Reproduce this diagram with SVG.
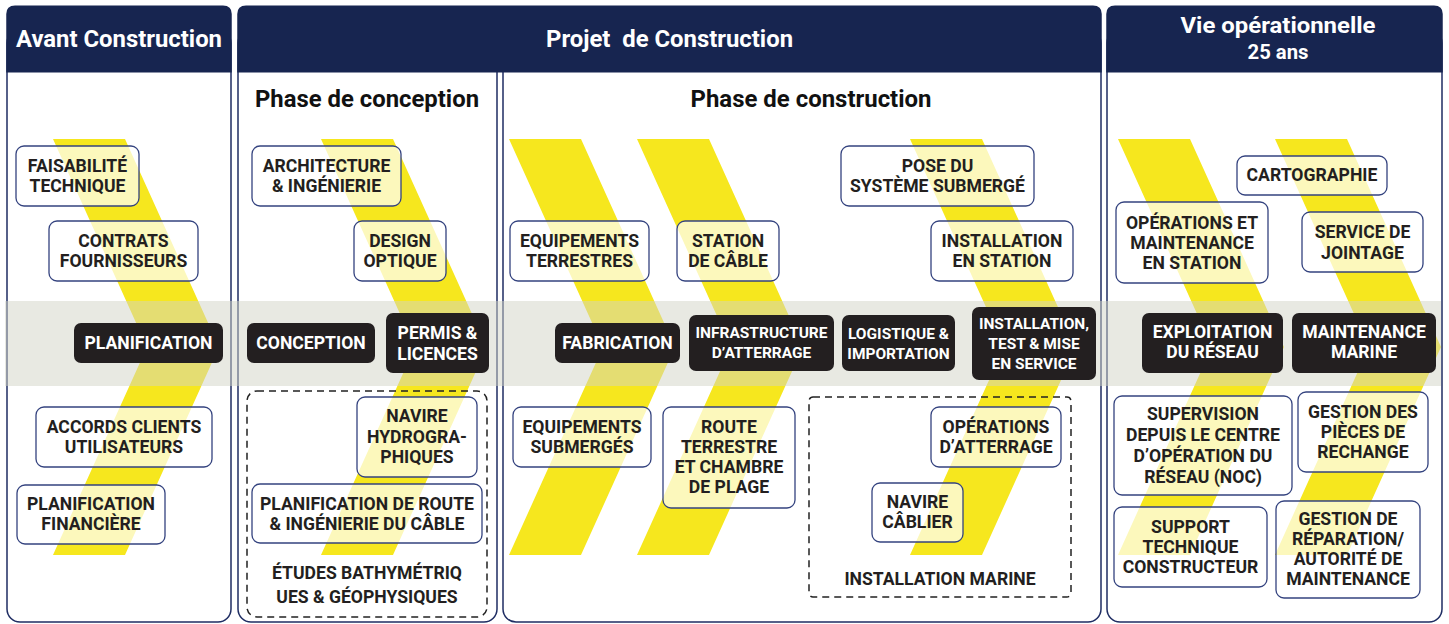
<svg xmlns="http://www.w3.org/2000/svg" width="1449" height="624" viewBox="0 0 1449 624">
<style>
.panel{fill:#ffffff;stroke:#1f2d63;stroke-width:1.5}
.head{fill:#172550}
.ht{font-family:Roboto,"Liberation Sans",sans-serif;font-weight:700;fill:#ffffff;text-anchor:middle}
.title{font-family:Roboto,"Liberation Sans",sans-serif;font-weight:700;fill:#111111;text-anchor:middle;font-size:23px}
.chev{fill:#f6e71e}
.band{fill:#d2d4c6;opacity:0.5}
.box{fill:#ffffff;fill-opacity:0.7;stroke:#34437f;stroke-width:1.3}
.dark{fill:#231f20}
.dash{fill:none;stroke:#222222;stroke-width:1.5;stroke-dasharray:7 5}
.t{font-family:Roboto,"Liberation Sans",sans-serif;font-weight:700;font-size:17.6px;fill:#231f20;text-anchor:middle}
.w{font-family:Roboto,"Liberation Sans",sans-serif;font-weight:700;font-size:17.6px;fill:#ffffff;text-anchor:middle}
.ws{font-size:15.5px}
</style>
<defs>
<polygon id="chevron" points="0,139 72,139 166,347 72,555 0,555 94,347"/>
</defs>

<g id="panels">
<rect class="panel" x="7" y="30" width="224" height="592" rx="13"/>
<rect class="panel" x="238" y="30" width="259" height="592" rx="13"/>
<rect class="panel" x="503" y="30" width="598" height="592" rx="13"/>
<rect class="panel" x="1107" y="30" width="335" height="592" rx="13"/>
<path class="head" d="M6.25,72.5 V14 Q6.25,5.5 15,5.5 H223 Q231.75,5.5 231.75,14 V72.5 Z"/>
<path class="head" d="M237.25,72.5 V14 Q237.25,5.5 246,5.5 H1093 Q1101.75,5.5 1101.75,14 V72.5 Z"/>
<path class="head" d="M1106.25,72.5 V14 Q1106.25,5.5 1115,5.5 H1434 Q1442.75,5.5 1442.75,14 V72.5 Z"/>
<text class="ht" x="119" y="47" font-size="24" textLength="206" lengthAdjust="spacingAndGlyphs">Avant Construction</text>
<text class="ht" x="669.5" y="47" font-size="24" textLength="247" lengthAdjust="spacingAndGlyphs" xml:space="preserve">Projet  de Construction</text>
<text class="ht" x="1278" y="33" font-size="22" textLength="195" lengthAdjust="spacingAndGlyphs">Vie opérationnelle</text>
<text class="ht" x="1278" y="59" font-size="20" textLength="61" lengthAdjust="spacingAndGlyphs">25 ans</text>
<text class="title" x="367" y="107" textLength="224" lengthAdjust="spacingAndGlyphs">Phase de conception</text>
<text class="title" x="811" y="107" textLength="241" lengthAdjust="spacingAndGlyphs">Phase de construction</text>
</g>

<g id="chevrons">
<use href="#chevron" class="chev" x="53"/>
<use href="#chevron" class="chev" x="321"/>
<use href="#chevron" class="chev" x="509"/>
<use href="#chevron" class="chev" x="637"/>
<use href="#chevron" class="chev" x="910"/>
<use href="#chevron" class="chev" x="1118"/>
<use href="#chevron" class="chev" x="1275"/>
</g>

<rect id="band" class="band" x="5" y="301" width="1436" height="85"/>

<g id="groups">
<g id="etudes-group">
<rect class="dash" x="247" y="391" width="240" height="226" rx="10"/>
<text class="t" x="367" y="579">ÉTUDES BATHYMÉTRIQ</text>
<text class="t" x="367" y="603">UES &amp; GÉOPHYSIQUES</text>
</g>
<g id="installation-marine-group">
<rect class="dash" x="809" y="397" width="262" height="200" rx="4"/>
<text class="t" x="940" y="585">INSTALLATION MARINE</text>
</g>
</g>

<g id="connectors"/>

<g id="n-faisabilite"><rect class="box" x="16" y="146" width="123" height="60" rx="8"/><text class="t" x="77.5" y="172">FAISABILITÉ</text><text class="t" x="77.5" y="192">TECHNIQUE</text></g>
<g id="n-contrats"><rect class="box" x="49" y="221" width="149" height="60" rx="8"/><text class="t" x="123.5" y="247">CONTRATS</text><text class="t" x="123.5" y="267">FOURNISSEURS</text></g>
<g id="n-planification"><rect class="dark" x="74" y="323" width="149" height="40" rx="7"/><text class="w" x="148.5" y="349">PLANIFICATION</text></g>
<g id="n-accords"><rect class="box" x="36" y="407" width="176" height="60" rx="8"/><text class="t" x="124" y="433">ACCORDS CLIENTS</text><text class="t" x="124" y="453">UTILISATEURS</text></g>
<g id="n-planif-financiere"><rect class="box" x="17" y="485" width="148" height="59" rx="8"/><text class="t" x="91" y="510">PLANIFICATION</text><text class="t" x="91" y="530">FINANCIÈRE</text></g>

<g id="n-architecture"><rect class="box" x="252" y="146" width="149" height="60" rx="8"/><text class="t" x="326.5" y="172">ARCHITECTURE</text><text class="t" x="326.5" y="192">&amp; INGÉNIERIE</text></g>
<g id="n-design"><rect class="box" x="354" y="221" width="92" height="60" rx="8"/><text class="t" x="400" y="247">DESIGN</text><text class="t" x="400" y="267">OPTIQUE</text></g>
<g id="n-conception"><rect class="dark" x="247" y="323" width="128" height="40" rx="7"/><text class="w" x="311" y="349">CONCEPTION</text></g>
<g id="n-permis"><rect class="dark" x="386" y="313" width="103" height="60" rx="7"/><text class="w" x="437.5" y="339">PERMIS &amp;</text><text class="w" x="437.5" y="360">LICENCES</text></g>
<g id="n-navire-hydro"><rect class="box" x="357" y="397" width="120" height="80" rx="8"/><text class="t" x="417" y="422">NAVIRE</text><text class="t" x="417" y="442.5">HYDROGRA-</text><text class="t" x="417" y="463">PHIQUES</text></g>
<g id="n-planif-route"><rect class="box" x="252" y="484" width="230" height="59" rx="8"/><text class="t" x="367" y="510">PLANIFICATION DE ROUTE</text><text class="t" x="367" y="530">&amp; INGÉNIERIE DU CÂBLE</text></g>

<g id="n-equip-terrestres"><rect class="box" x="510" y="221" width="139" height="60" rx="8"/><text class="t" x="579.5" y="247">EQUIPEMENTS</text><text class="t" x="579.5" y="267">TERRESTRES</text></g>
<g id="n-station"><rect class="box" x="677" y="221" width="102" height="60" rx="8"/><text class="t" x="728" y="247">STATION</text><text class="t" x="728" y="267">DE CÂBLE</text></g>
<g id="n-pose"><rect class="box" x="841" y="146" width="193" height="60" rx="8"/><text class="t" x="937.5" y="172">POSE DU</text><text class="t" x="937.5" y="192">SYSTÈME SUBMERGÉ</text></g>
<g id="n-install-station"><rect class="box" x="931" y="221" width="142" height="60" rx="8"/><text class="t" x="1002" y="247">INSTALLATION</text><text class="t" x="1002" y="267">EN STATION</text></g>
<g id="n-fabrication"><rect class="dark" x="555" y="323" width="125" height="40" rx="7"/><text class="w" x="617.5" y="349">FABRICATION</text></g>
<g id="n-infrastructure"><rect class="dark" x="689" y="315" width="145" height="56" rx="7"/><text class="w ws" x="761.5" y="338">INFRASTRUCTURE</text><text class="w ws" x="761.5" y="358">D’ATTERRAGE</text></g>
<g id="n-logistique"><rect class="dark" x="842" y="315" width="113" height="56" rx="7"/><text class="w ws" x="898.5" y="339">LOGISTIQUE &amp;</text><text class="w ws" x="898.5" y="359">IMPORTATION</text></g>
<g id="n-install-test"><rect class="dark" x="972" y="307" width="124" height="73" rx="7"/><text class="w ws" x="1034" y="329">INSTALLATION,</text><text class="w ws" x="1034" y="349">TEST &amp; MISE</text><text class="w ws" x="1034" y="369">EN SERVICE</text></g>
<g id="n-equip-submerges"><rect class="box" x="513" y="407" width="138" height="60" rx="8"/><text class="t" x="582" y="433">EQUIPEMENTS</text><text class="t" x="582" y="453">SUBMERGÉS</text></g>
<g id="n-route"><rect class="box" x="663" y="407" width="132" height="101" rx="8"/><text class="t" x="729" y="433">ROUTE</text><text class="t" x="729" y="453">TERRESTRE</text><text class="t" x="729" y="473">ET CHAMBRE</text><text class="t" x="729" y="493">DE PLAGE</text></g>
<g id="n-operations-atterrage"><rect class="box" x="931" y="407" width="130" height="60" rx="8"/><text class="t" x="996" y="433">OPÉRATIONS</text><text class="t" x="996" y="453">D’ATTERRAGE</text></g>
<g id="n-navire-cablier"><rect class="box" x="872" y="483" width="91" height="59" rx="8"/><text class="t" x="917.5" y="507.5">NAVIRE</text><text class="t" x="917.5" y="528">CÂBLIER</text></g>

<g id="n-cartographie"><rect class="box" x="1237" y="156" width="150" height="39" rx="8"/><text class="t" x="1312" y="181">CARTOGRAPHIE</text></g>
<g id="n-operations-maintenance"><rect class="box" x="1116" y="202" width="152" height="81" rx="8"/><text class="t" x="1192" y="229">OPÉRATIONS ET</text><text class="t" x="1192" y="249">MAINTENANCE</text><text class="t" x="1192" y="269">EN STATION</text></g>
<g id="n-jointage"><rect class="box" x="1302" y="212" width="121" height="60" rx="8"/><text class="t" x="1362.5" y="238">SERVICE DE</text><text class="t" x="1362.5" y="259">JOINTAGE</text></g>
<g id="n-exploitation"><rect class="dark" x="1142" y="313" width="141" height="60" rx="7"/><text class="w" x="1212.5" y="338">EXPLOITATION</text><text class="w" x="1212.5" y="358">DU RÉSEAU</text></g>
<g id="n-maintenance-marine"><rect class="dark" x="1292" y="313" width="144" height="60" rx="7"/><text class="w" x="1364" y="338">MAINTENANCE</text><text class="w" x="1364" y="358">MARINE</text></g>
<g id="n-supervision"><rect class="box" x="1114" y="396" width="178" height="99" rx="8"/><text class="t" x="1203" y="420">SUPERVISION</text><text class="t" x="1203" y="441">DEPUIS LE CENTRE</text><text class="t" x="1203" y="462">D’OPÉRATION DU</text><text class="t" x="1203" y="483">RÉSEAU (NOC)</text></g>
<g id="n-pieces"><rect class="box" x="1298" y="392" width="130" height="80" rx="8"/><text class="t" x="1363" y="418">GESTION DES</text><text class="t" x="1363" y="438">PIÈCES DE</text><text class="t" x="1363" y="458">RECHANGE</text></g>
<g id="n-support"><rect class="box" x="1114" y="507" width="153" height="80" rx="8"/><text class="t" x="1190.5" y="533">SUPPORT</text><text class="t" x="1190.5" y="553">TECHNIQUE</text><text class="t" x="1190.5" y="573">CONSTRUCTEUR</text></g>
<g id="n-reparation"><rect class="box" x="1276" y="501" width="144" height="97" rx="8"/><text class="t" x="1348" y="525">GESTION DE</text><text class="t" x="1348" y="545">RÉPARATION/</text><text class="t" x="1348" y="565">AUTORITÉ DE</text><text class="t" x="1348" y="585">MAINTENANCE</text></g>
</svg>
